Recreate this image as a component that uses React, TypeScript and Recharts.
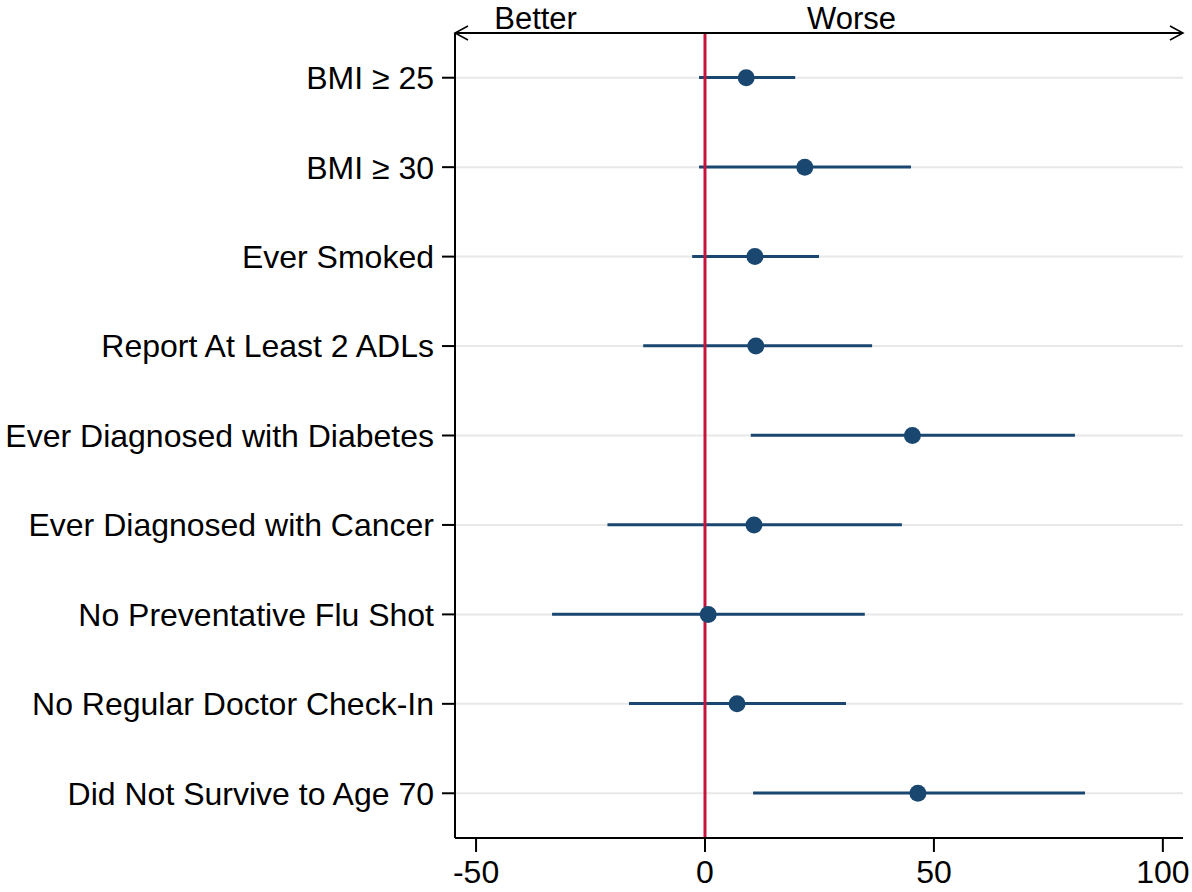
import {
  Bar,
  CartesianGrid,
  ComposedChart,
  ReferenceLine,
  Scatter,
  XAxis,
  YAxis,
} from "recharts";

const outcomes = [
  "BMI ≥ 25",
  "BMI ≥ 30",
  "Ever Smoked",
  "Report At Least 2 ADLs",
  "Ever Diagnosed with Diabetes",
  "Ever Diagnosed with Cancer",
  "No Preventative Flu Shot",
  "No Regular Doctor Check-In",
  "Did Not Survive to Age 70",
];
const estimates = [9.0, 21.8, 10.9, 11.1, 45.3, 10.7, 0.7, 7.0, 46.5];
const lower = [-1.3, -1.3, -2.8, -13.5, 10.0, -21.3, -33.4, -16.6, 10.5];
const upper = [19.7, 45.0, 24.9, 36.5, 80.8, 43.0, 34.9, 30.8, 83.0];

const xTicks = [-50, 0, 50, 100];
const xDomain: [number, number] = [-54.6, 104.4];
// top "axis" carries the direction labels
const directionTicks = [-37, 32];
const directionLabels: Record<number, string> = { [-37]: "Better", 32: "Worse" };

const NAVY = "#1a476f";
const RED = "#c8143c";
const FONT = "'Liberation Sans', Arial, Helvetica, sans-serif";

type Row = { label: string; est: number; ci: [number, number] };

const data: Row[] = outcomes.map((label, i) => ({
  label,
  est: estimates[i],
  ci: [lower[i], upper[i]],
}));

function Dot(props: any) {
  const { cx, cy } = props;
  if (cx == null || cy == null) return null;
  return <circle cx={cx} cy={cy} r={8.5} fill={NAVY} />;
}

export default function App() {
  return (
    <div style={{ position: "absolute", left: 0, top: 0, background: "#fff" }}>
      <ComposedChart
        width={1192}
        height={892}
        data={data}
        layout="vertical"
        margin={{ top: 0, right: 9, bottom: 0, left: 0 }}
        barCategoryGap={0}
      >
        <defs>
          <marker
            id="openArrow"
            markerWidth="18"
            markerHeight="18"
            refX="15"
            refY="9"
            orient="auto-start-reverse"
            markerUnits="userSpaceOnUse"
          >
            <path d="M2,2 L15,9 L2,16" fill="none" stroke="#000" strokeWidth={1.5} />
          </marker>
        </defs>
        <CartesianGrid horizontal vertical={false} stroke="#e8e8e8" strokeWidth={2} />
        <XAxis
          type="number"
          domain={xDomain}
          allowDataOverflow
          ticks={xTicks}
          height={54}
          tickSize={14}
          tickMargin={8}
          axisLine={{ stroke: "#000", strokeWidth: 2 }}
          tickLine={{ stroke: "#000", strokeWidth: 2 }}
          tick={{ fill: "#000", fontSize: 32, fontFamily: FONT }}
          tickFormatter={(v) => String(v)}
        />
        <XAxis
          xAxisId="top"
          orientation="top"
          type="number"
          domain={xDomain}
          allowDataOverflow
          ticks={directionTicks}
          height={33}
          tickSize={0}
          tickMargin={4}
          tickLine={false}
          axisLine={{
            stroke: "#000",
            strokeWidth: 2,
            markerStart: "url(#openArrow)",
            markerEnd: "url(#openArrow)",
          }}
          tick={{ fill: "#000", fontSize: 31, fontFamily: FONT }}
          tickFormatter={(v) => directionLabels[v] ?? ""}
        />
        <YAxis
          type="category"
          dataKey="label"
          width={455}
          tickSize={13}
          tickMargin={8}
          interval={0}
          axisLine={{ stroke: "#000", strokeWidth: 2 }}
          tickLine={{ stroke: "#000", strokeWidth: 2 }}
          tick={{ fill: "#000", fontSize: 32, fontFamily: FONT }}
        />
        <ReferenceLine x={0} stroke={RED} strokeWidth={3} />
        <Bar dataKey="ci" fill={NAVY} barSize={3} isAnimationActive={false} />
        <Scatter dataKey="est" fill={NAVY} shape={<Dot />} isAnimationActive={false} />
      </ComposedChart>
    </div>
  );
}
